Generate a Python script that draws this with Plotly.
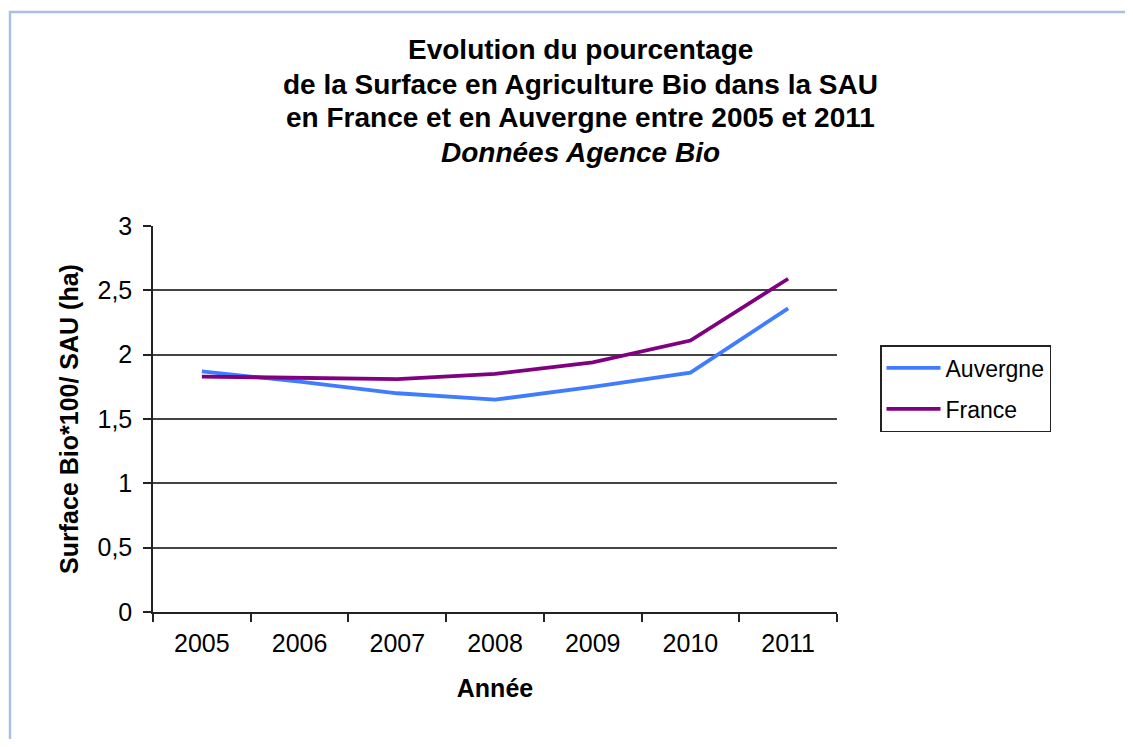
import plotly.graph_objects as go

years = ["2005", "2006", "2007", "2008", "2009", "2010", "2011"]
auvergne = [1.87, 1.79, 1.70, 1.65, 1.75, 1.86, 2.36]
france = [1.83, 1.82, 1.81, 1.85, 1.94, 2.11, 2.59]
title_lines = [
    "<b>Evolution du pourcentage</b>",
    "<b>de la Surface en Agriculture Bio dans la SAU</b>",
    "<b>en France et en Auvergne entre 2005 et 2011</b>",
    "<b><i>Données Agence Bio</i></b>",
]
y_ticks = [0, 0.5, 1, 1.5, 2, 2.5, 3]

FONT = "Liberation Sans, Arial, sans-serif"
OFF = 8  # browser body margin
W, H = 1133 - 2 * OFF, 747 - 2 * OFF
L, R, T, B = 153 - OFF, 837 - OFF, 226 - OFF, 612 - OFF
pw, ph = R - L, B - T

def px(x):
    return (x - OFF - L) / pw

def py(y):
    return (B - (y - OFF)) / ph

fig = go.Figure()
fig.add_trace(go.Scatter(x=years, y=auvergne, mode="lines", name="Auvergne",
                         line=dict(color="#3f7cff", width=3.8), legendgroup="a"))
fig.add_trace(go.Scatter(x=years, y=france, mode="lines", name="France",
                         line=dict(color="#800080", width=3.8), legendgroup="f"))

annotations = []
for line, yc in zip(title_lines, [50, 84, 118, 152]):
    annotations.append(dict(text=line, x=px(580), y=py(yc), xref="paper", yref="paper",
                            xanchor="center", yanchor="middle", showarrow=False,
                            font=dict(family=FONT, size=28, color="#000000")))

fig.update_layout(
    width=W, height=H,
    margin=dict(l=L, r=W - R, t=T, b=H - B, pad=0),
    paper_bgcolor="white", plot_bgcolor="white",
    separators=", ",
    font=dict(family=FONT, size=25, color="#000000"),
    annotations=annotations,
    showlegend=True,
    legend=dict(x=px(880), y=py(345), xanchor="left", yanchor="top",
                bordercolor="#222222", borderwidth=1.5, bgcolor="white",
                font=dict(family=FONT, size=23, color="#000000"),
                tracegroupgap=8, itemwidth=54),
    shapes=[dict(type="rect", xref="paper", yref="paper",
                 x0=px(10), y0=-0.6, x1=1.7, y1=py(12),
                 line=dict(color="#a9c0e0", width=2.5), layer="below")],
)

fig.update_xaxes(
    type="category", range=[-0.5, 6.5],
    showline=True, linecolor="#222222", linewidth=1.5,
    ticks="outside", tickson="boundaries", ticklen=8, tickcolor="#222222", tickwidth=1.5,
    ticklabelstandoff=8, showgrid=False,
    tickfont=dict(family=FONT, size=25, color="#000000"),
    title=dict(text="<b>Année</b>", font=dict(family=FONT, size=25, color="#000000"), standoff=24),
)
fig.update_yaxes(
    range=[0, 3], tickvals=y_ticks,
    showline=True, linecolor="#222222", linewidth=1.5,
    ticks="outside", ticklen=8, tickcolor="#222222", tickwidth=1.5,
    ticklabelstandoff=6,
    showgrid=True, gridcolor="#444444", gridwidth=1.9, zeroline=False,
    tickfont=dict(family=FONT, size=25, color="#000000"),
    title=dict(text="<b>Surface Bio*100/ SAU (ha)</b>", font=dict(family=FONT, size=25, color="#000000"), standoff=12),
)

fig.write_html("out.html")
